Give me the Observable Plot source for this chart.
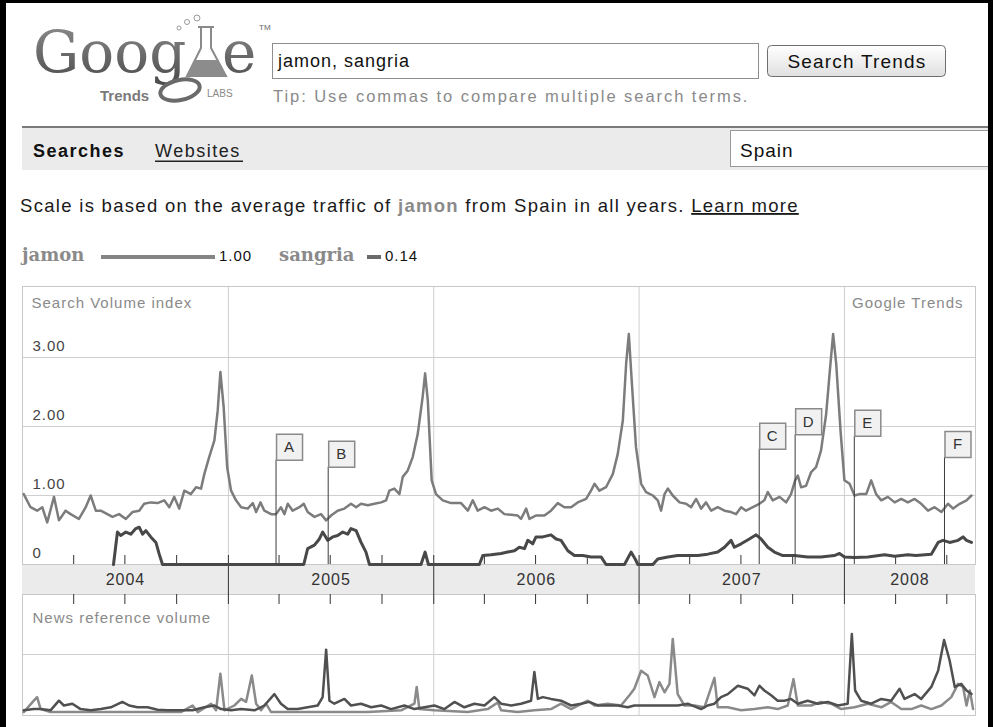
<!DOCTYPE html>
<html><head><meta charset="utf-8">
<script src="https://cdn.jsdelivr.net/npm/d3@7"></script>
<script src="https://cdn.jsdelivr.net/npm/@observablehq/plot@0.6"></script>
<style>
html,body{margin:0;padding:0;background:#fff;}
#page{position:relative;width:993px;height:727px;overflow:hidden;font-family:"Liberation Sans",Arial,sans-serif;}
#border{position:absolute;left:0;top:0;width:993px;height:760px;box-sizing:border-box;border-left:6px solid #000;border-top:3px solid #000;border-right:5px solid #000;pointer-events:none;z-index:5}
#head{position:absolute;left:0;top:0}
#search{position:absolute;left:21px;top:285px}
#news{position:absolute;left:21px;top:593px}
</style></head><body>
<div id="page">
<svg id="head" width="993" height="285" font-family="Liberation Sans, Arial, sans-serif">
  <defs>
    <linearGradient id="btn" x1="0" y1="0" x2="0" y2="1"><stop offset="0" stop-color="#ffffff"/><stop offset="1" stop-color="#e0e0e0"/></linearGradient>
    <linearGradient id="logo" x1="0" y1="0" x2="0" y2="1"><stop offset="0" stop-color="#909090"/><stop offset="1" stop-color="#4a4a4a"/></linearGradient>
  </defs>
  <g font-family="DejaVu Serif" font-size="58" fill="url(#logo)">
    <text x="33" y="72">Goog</text><text x="222" y="72">e</text>
  </g>
  <circle cx="179" cy="28" r="2" fill="none" stroke="#9a9a9a"/>
  <circle cx="187" cy="22" r="2.5" fill="none" stroke="#9a9a9a"/>
  <circle cx="197" cy="18" r="3" fill="none" stroke="#9a9a9a"/>
  <path d="M198,27 L214,27 M201,27 L201,48 L187,76 L226,76 L211,48 L211,27" fill="none" stroke="#8a8a8a" stroke-width="2"/>
  <path d="M195,60 L218,60 L226,76 L187,76 Z" fill="#8c8c8c"/>
  <ellipse cx="180" cy="90" rx="20" ry="10" fill="none" stroke="#6a6a6a" stroke-width="4" transform="rotate(-12 180 90)"/>
  <text x="259" y="30" font-size="8" fill="#666">TM</text>
  <text x="100" y="101" font-weight="bold" font-size="15" fill="#7a7a7a">Trends</text>
  <text x="207" y="97" font-size="10" fill="#8a8a8a">LABS</text>
  <rect x="272.5" y="43.5" width="486" height="35" fill="#fff" stroke="#8e8e8e"/>
  <text x="278" y="67" font-size="18" letter-spacing="1" fill="#111">jamon, sangria</text>
  <rect x="767.5" y="45.5" width="178" height="31" rx="4" fill="url(#btn)" stroke="#6e6e6e"/>
  <text x="857" y="68" text-anchor="middle" font-size="19" letter-spacing="1.2" fill="#111">Search Trends</text>
  <text x="273" y="102" font-size="16.5" letter-spacing="1.95" fill="#8a8a8a">Tip: Use commas to compare multiple search terms.</text>
  <rect x="22" y="126" width="971" height="2" fill="#7a7a7a"/>
  <rect x="22" y="128" width="971" height="42" fill="#ebebeb"/>
  <text x="33" y="157" font-size="18" font-weight="bold" letter-spacing="1.5" fill="#111">Searches</text>
  <text x="155" y="157" font-size="18" letter-spacing="1.5" fill="#222">Websites</text>
  <rect x="155" y="160.5" width="88" height="1.5" fill="#222"/>
  <rect x="730.5" y="130.5" width="300" height="36" fill="#fff" stroke="#999"/>
  <text x="740" y="157" font-size="19" letter-spacing="1" fill="#111">Spain</text>
  <text x="20" y="212" font-size="18.5" letter-spacing="1.3" fill="#1a1a1a">Scale is based on the average traffic of <tspan font-weight="bold" fill="#8a8a8a">jamon</tspan> from Spain in all years. <tspan text-decoration="underline">Learn more</tspan></text>
  <g id="legend"></g>
</svg>
<div id="search"></div>
<div id="news"></div>
<div id="border"></div>
</div>
<script>
// ---- data (decimal year, value) ----
const seriesNames = ["jamon", "sangria"];
const seriesScale = ["1.00", "0.14"];

const jamonSearch = [[2004.006,1.02],[2004.039,0.83],[2004.071,0.78],[2004.096,0.83],[2004.120,0.61],[2004.153,0.98],[2004.177,0.64],[2004.209,0.78],[2004.234,0.73],[2004.274,0.66],[2004.307,0.83],[2004.331,1.00],[2004.356,0.78],[2004.380,0.78],[2004.412,0.73],[2004.437,0.69],[2004.469,0.73],[2004.502,0.66],[2004.534,0.76],[2004.567,0.78],[2004.591,0.88],[2004.623,0.90],[2004.656,0.89],[2004.688,0.93],[2004.713,0.83],[2004.737,0.98],[2004.761,0.81],[2004.786,1.07],[2004.818,1.02],[2004.843,1.12],[2004.867,1.10],[2004.883,1.31],[2004.907,1.56],[2004.932,1.80],[2004.948,2.23],[2004.961,2.79],[2004.977,2.28],[2004.994,1.41],[2005.013,1.07],[2005.037,0.93],[2005.062,0.83],[2005.094,0.81],[2005.119,0.89],[2005.135,0.76],[2005.156,0.90],[2005.175,0.78],[2005.208,0.73],[2005.232,0.73],[2005.256,0.83],[2005.273,0.73],[2005.289,0.88],[2005.313,0.78],[2005.346,0.83],[2005.367,0.88],[2005.386,0.76],[2005.419,0.69],[2005.451,0.73],[2005.476,0.64],[2005.500,0.71],[2005.532,0.78],[2005.565,0.81],[2005.597,0.88],[2005.622,0.83],[2005.646,0.88],[2005.679,0.86],[2005.711,0.88],[2005.744,0.90],[2005.768,0.93],[2005.784,1.07],[2005.808,1.10],[2005.833,1.02],[2005.849,1.27],[2005.873,1.36],[2005.898,1.56],[2005.922,1.89],[2005.946,2.43],[2005.958,2.77],[2005.971,2.38],[2005.990,1.22],[2006.011,1.02],[2006.044,0.93],[2006.084,0.89],[2006.133,0.89],[2006.166,0.78],[2006.190,0.93],[2006.214,0.78],[2006.247,0.83],[2006.279,0.78],[2006.312,0.81],[2006.344,0.73],[2006.377,0.72],[2006.409,0.71],[2006.425,0.66],[2006.450,0.81],[2006.466,0.66],[2006.498,0.71],[2006.539,0.71],[2006.571,0.78],[2006.604,0.89],[2006.636,0.83],[2006.669,0.83],[2006.701,0.90],[2006.742,0.95],[2006.766,1.07],[2006.783,1.17],[2006.807,1.07],[2006.839,1.12],[2006.872,1.31],[2006.896,1.60],[2006.921,2.09],[2006.937,2.91],[2006.950,3.34],[2006.964,2.67],[2006.985,1.70],[2007.010,1.17],[2007.034,1.05],[2007.067,1.00],[2007.091,0.93],[2007.107,0.78],[2007.124,1.02],[2007.140,1.10],[2007.164,1.00],[2007.197,0.90],[2007.229,0.88],[2007.253,0.83],[2007.278,0.95],[2007.302,0.81],[2007.326,0.90],[2007.351,0.78],[2007.383,0.83],[2007.416,0.78],[2007.448,0.76],[2007.472,0.73],[2007.497,0.83],[2007.521,0.78],[2007.554,0.83],[2007.586,0.88],[2007.610,0.93],[2007.627,1.05],[2007.651,0.93],[2007.684,0.98],[2007.716,0.90],[2007.740,1.02],[2007.760,1.22],[2007.773,1.29],[2007.789,1.12],[2007.813,1.14],[2007.838,1.34],[2007.862,1.41],[2007.886,1.65],[2007.911,2.18],[2007.932,2.91],[2007.945,3.34],[2007.960,2.91],[2007.981,1.94],[2008.000,1.22],[2008.025,1.17],[2008.049,1.00],[2008.073,1.02],[2008.106,1.02],[2008.130,1.22],[2008.154,1.02],[2008.179,0.93],[2008.211,0.98],[2008.244,0.90],[2008.276,0.95],[2008.308,0.90],[2008.341,0.95],[2008.373,0.88],[2008.406,0.78],[2008.438,0.83],[2008.471,0.76],[2008.503,0.88],[2008.528,0.81],[2008.560,0.88],[2008.593,0.93],[2008.617,1.00]];

const sangriaSearch = [[2004.442,0],[2004.461,0.47],[2004.477,0.42],[2004.502,0.47],[2004.526,0.44],[2004.550,0.52],[2004.567,0.54],[2004.583,0.44],[2004.599,0.49],[2004.623,0.40],[2004.648,0.32],[2004.664,0.15],[2004.680,0],[2005.367,0],[2005.386,0.23],[2005.419,0.28],[2005.443,0.37],[2005.459,0.47],[2005.484,0.35],[2005.508,0.40],[2005.532,0.42],[2005.557,0.47],[2005.581,0.44],[2005.597,0.52],[2005.622,0.49],[2005.646,0.32],[2005.670,0.18],[2005.687,0],[2005.938,0],[2005.958,0.18],[2005.974,0],[2006.222,0],[2006.239,0.13],[2006.279,0.14],[2006.328,0.16],[2006.360,0.18],[2006.393,0.20],[2006.417,0.25],[2006.442,0.23],[2006.458,0.35],[2006.482,0.30],[2006.498,0.40],[2006.531,0.40],[2006.571,0.43],[2006.596,0.37],[2006.620,0.35],[2006.653,0.20],[2006.685,0.13],[2006.726,0.13],[2006.766,0.11],[2006.815,0.11],[2006.839,0],[2006.929,0],[2006.961,0.18],[2006.981,0.08],[2006.994,0],[2007.067,0],[2007.091,0.08],[2007.140,0.11],[2007.188,0.13],[2007.237,0.13],[2007.286,0.13],[2007.334,0.15],[2007.383,0.18],[2007.416,0.25],[2007.448,0.35],[2007.464,0.25],[2007.497,0.30],[2007.537,0.37],[2007.570,0.43],[2007.594,0.37],[2007.627,0.25],[2007.659,0.18],[2007.700,0.13],[2007.756,0.13],[2007.821,0.11],[2007.886,0.11],[2007.951,0.13],[2007.976,0.16],[2008.000,0.11],[2008.049,0.10],[2008.114,0.11],[2008.195,0.14],[2008.244,0.12],[2008.308,0.14],[2008.347,0.13],[2008.422,0.15],[2008.455,0.32],[2008.479,0.35],[2008.511,0.32],[2008.552,0.35],[2008.576,0.40],[2008.593,0.35],[2008.617,0.32]];

const jamonNews = [[2004.006,0.04],[2004.055,0.23],[2004.071,0.29],[2004.088,0.09],[2004.136,0.04],[2004.299,0.04],[2004.542,0.04],[2004.769,0.04],[2004.826,0.15],[2004.851,0.04],[2004.916,0.18],[2004.940,0.07],[2004.961,0.68],[2004.981,0.07],[2005.029,0.15],[2005.062,0.26],[2005.086,0.21],[2005.114,0.65],[2005.135,0.18],[2005.159,0.07],[2005.183,0.18],[2005.208,0.04],[2005.354,0.04],[2005.516,0.04],[2005.679,0.04],[2005.841,0.07],[2005.906,0.18],[2005.917,0.46],[2005.930,0.09],[2006.003,0.07],[2006.166,0.04],[2006.263,0.09],[2006.312,0.20],[2006.328,0.07],[2006.409,0.04],[2006.490,0.07],[2006.571,0.09],[2006.620,0.18],[2006.669,0.09],[2006.750,0.23],[2006.783,0.15],[2006.847,0.18],[2006.912,0.15],[2006.953,0.32],[2006.977,0.43],[2007.010,0.73],[2007.042,0.65],[2007.075,0.29],[2007.099,0.54],[2007.124,0.37],[2007.148,0.51],[2007.164,1.26],[2007.188,0.34],[2007.221,0.15],[2007.270,0.15],[2007.318,0.12],[2007.367,0.61],[2007.383,0.12],[2007.432,0.12],[2007.497,0.07],[2007.562,0.09],[2007.627,0.12],[2007.675,0.09],[2007.724,0.15],[2007.752,0.59],[2007.773,0.15],[2007.838,0.15],[2007.886,0.21],[2007.935,0.18],[2007.984,0.09],[2008.049,0.12],[2008.114,0.18],[2008.179,0.12],[2008.227,0.21],[2008.276,0.09],[2008.325,0.09],[2008.373,0.15],[2008.422,0.09],[2008.471,0.15],[2008.519,0.29],[2008.552,0.51],[2008.576,0.46],[2008.593,0.15],[2008.609,0.40],[2008.625,0.09]];

const sangriaNews = [[2004.006,0.07],[2004.055,0.09],[2004.088,0.09],[2004.136,0.07],[2004.177,0.23],[2004.201,0.15],[2004.242,0.18],[2004.282,0.09],[2004.331,0.07],[2004.380,0.09],[2004.429,0.12],[2004.485,0.21],[2004.518,0.15],[2004.558,0.12],[2004.607,0.12],[2004.656,0.08],[2004.705,0.07],[2004.769,0.07],[2004.826,0.07],[2004.883,0.12],[2004.932,0.15],[2004.964,0.09],[2005.013,0.07],[2005.062,0.09],[2005.127,0.07],[2005.175,0.15],[2005.224,0.34],[2005.256,0.18],[2005.289,0.09],[2005.338,0.09],[2005.386,0.12],[2005.435,0.15],[2005.459,0.29],[2005.476,1.08],[2005.492,0.23],[2005.516,0.18],[2005.565,0.26],[2005.597,0.15],[2005.646,0.18],[2005.695,0.12],[2005.744,0.15],[2005.792,0.09],[2005.857,0.15],[2005.906,0.09],[2005.955,0.12],[2006.003,0.15],[2006.052,0.09],[2006.101,0.21],[2006.149,0.12],[2006.198,0.18],[2006.247,0.15],[2006.295,0.29],[2006.328,0.18],[2006.377,0.15],[2006.425,0.18],[2006.474,0.23],[2006.490,0.71],[2006.507,0.26],[2006.531,0.29],[2006.571,0.26],[2006.620,0.23],[2006.669,0.15],[2006.718,0.18],[2006.758,0.21],[2006.799,0.15],[2006.847,0.15],[2006.896,0.15],[2006.945,0.12],[2006.977,0.15],[2007.026,0.15],[2007.091,0.15],[2007.140,0.15],[2007.188,0.15],[2007.237,0.18],[2007.302,0.09],[2007.334,0.15],[2007.367,0.18],[2007.399,0.29],[2007.432,0.34],[2007.481,0.48],[2007.529,0.43],[2007.562,0.32],[2007.586,0.48],[2007.610,0.40],[2007.643,0.32],[2007.675,0.23],[2007.708,0.23],[2007.740,0.26],[2007.773,0.18],[2007.821,0.23],[2007.870,0.18],[2007.919,0.21],[2007.968,0.15],[2008.016,0.18],[2008.036,1.34],[2008.052,0.40],[2008.081,0.23],[2008.130,0.18],[2008.179,0.26],[2008.227,0.23],[2008.268,0.43],[2008.292,0.26],[2008.341,0.34],[2008.373,0.26],[2008.422,0.46],[2008.455,0.73],[2008.484,1.24],[2008.511,0.90],[2008.536,0.46],[2008.568,0.51],[2008.593,0.40],[2008.617,0.34]];

const flagLabels = ["A", "B", "C", "D", "E", "F"];
const flagDates = [2005.232, 2005.486, 2007.585, 2007.760, 2008.048, 2008.486];
const flagLevels = [1.51, 1.41, 1.67, 1.88, 1.86, 1.55];

const yTicks = [0, 1, 2, 3];
const years = [2004, 2005, 2006, 2007, 2008];

// ---- helpers ----
const toDate = t => { const y = Math.floor(t); const a = Date.UTC(y, 0, 1), b = Date.UTC(y + 1, 0, 1); return new Date(a + (t - y) * (b - a)); };
const rows = arr => arr.map(([t, v]) => ({date: toDate(t), value: v}));
const xStart = new Date(Date.UTC(2004, 0, 1)), xEnd = new Date(Date.UTC(2008, 7, 21));
const yearStarts = years.slice(1).map(y => new Date(Date.UTC(y, 0, 1)));
const quarters = years.flatMap(y => [3, 6, 9].map(m => new Date(Date.UTC(y, m, 1)))).filter(d => d < xEnd);
const tickDates = quarters.concat(yearStarts);
const yearMids = years.map(y => { const a = Date.UTC(y, 0, 1), b = Math.min(Date.UTC(y + 1, 0, 1), +xEnd); return new Date((a + b) / 2); });
const flags = flagLabels.map((label, i) => ({label, date: toDate(flagDates[i]), level: flagLevels[i]}));

const baseStyle = {background: "transparent", fontFamily: "Liberation Sans, Arial, sans-serif", fontSize: "15px", letterSpacing: "1px", overflow: "visible"};
const jamonColor = "#7c7c7c", sangriaColor = "#484848";

// legend
const ns = "http://www.w3.org/2000/svg";
const leg = document.getElementById("legend");
const legendSpec = [
  {x: 22, bx: 101, bw: 114, vx: 219, color: "#858585"},
  {x: 279, bx: 367, bw: 14, vx: 385, color: "#6a6a6a"}
];
legendSpec.forEach((s, i) => {
  const t = document.createElementNS(ns, "text");
  t.setAttribute("x", s.x); t.setAttribute("y", 261);
  t.setAttribute("font-family", "DejaVu Serif"); t.setAttribute("font-weight", "bold");
  t.setAttribute("font-size", 18); t.setAttribute("fill", "#8a8a8a");
  t.textContent = seriesNames[i]; leg.appendChild(t);
  const r = document.createElementNS(ns, "rect");
  r.setAttribute("x", s.bx); r.setAttribute("y", 255); r.setAttribute("width", s.bw); r.setAttribute("height", 4);
  r.setAttribute("fill", s.color); leg.appendChild(r);
  const v = document.createElementNS(ns, "text");
  v.setAttribute("x", s.vx); v.setAttribute("y", 261); v.setAttribute("font-size", 15);
  v.setAttribute("letter-spacing", 1); v.setAttribute("fill", "#111");
  v.textContent = seriesScale[i]; leg.appendChild(v);
});

// ---- search volume chart ----
const search = Plot.plot({
  width: 955, height: 310,
  marginTop: 1, marginLeft: 1, marginRight: 1, marginBottom: 31,
  style: baseStyle,
  x: {type: "utc", domain: [xStart, xEnd], axis: null},
  y: {domain: [0, 3], range: [279, 72], axis: null},
  marks: [
    Plot.rect([0], {x1: () => xStart, x2: () => xEnd, insetTop: 278, insetBottom: -30, fill: "#ebebeb"}),
    Plot.ruleY(yTicks.filter(d => d > 0), {stroke: "#cfcfcf"}),
    Plot.ruleX(yearStarts, {stroke: "#cfcfcf"}),
    Plot.frame({stroke: "#c8c8c8"}),
    Plot.ruleX(tickDates, {insetTop: 269, stroke: "#333"}),
    Plot.ruleX(yearStarts, {insetTop: 278, insetBottom: -30, stroke: "#333"}),
    Plot.axisX(yearMids, {anchor: "bottom", tickSize: 0, tickPadding: 9, tickFormat: d => String(d.getUTCFullYear()), fill: "#333", fontSize: 16, label: null}),
    Plot.text(yTicks, {y: d => d, text: d => d === 0 ? "0" : d.toFixed(2), frameAnchor: "left", textAnchor: "start", dx: 10, dy: -11, fill: "#444", fontSize: 15}),
    Plot.text(["Search Volume index"], {frameAnchor: "top-left", textAnchor: "start", lineAnchor: "middle", dx: 9, dy: 17, fill: "#8a8a8a", fontSize: 15}),
    Plot.text(["Google Trends"], {frameAnchor: "top-right", textAnchor: "end", lineAnchor: "middle", dx: -12, dy: 17, fill: "#8a8a8a", fontSize: 15}),
    Plot.line(rows(jamonSearch), {x: "date", y: "value", stroke: jamonColor, strokeWidth: 2.5}),
    Plot.line(rows(sangriaSearch), {x: "date", y: "value", stroke: sangriaColor, strokeWidth: 3}),
    Plot.ruleX(flags, {x: "date", y1: 0, y2: "level", stroke: "#3c3c3c"}),
    Plot.dot(flags, {x: "date", y: "level", symbol: "square", r: 14.67, dx: 13.5, dy: -13, fill: "#f1f1f1", stroke: "#8a8a8a"}),
    Plot.text(flags, {x: "date", y: "level", text: "label", dx: 13.5, dy: -13, fill: "#333", fontSize: 15})
  ]
});
document.getElementById("search").appendChild(search);

// ---- news reference volume chart ----
const news = Plot.plot({
  width: 955, height: 123,
  marginTop: 1, marginLeft: 1, marginRight: 1, marginBottom: 1,
  style: baseStyle,
  x: {type: "utc", domain: [xStart, xEnd], axis: null},
  y: {domain: [0, 2], range: [121, 1], axis: null},
  marks: [
    Plot.ruleY([1], {stroke: "#cfcfcf"}),
    Plot.ruleX(yearStarts, {stroke: "#cfcfcf"}),
    Plot.frame({stroke: "#c8c8c8"}),
    Plot.ruleX(tickDates, {insetBottom: 111, stroke: "#333"}),
    Plot.text(["News reference volume"], {frameAnchor: "top-left", textAnchor: "start", lineAnchor: "middle", dx: 10, dy: 24, fill: "#8a8a8a", fontSize: 15}),
    Plot.line(rows(jamonNews), {x: "date", y: "value", stroke: "#8a8a8a", strokeWidth: 2.5}),
    Plot.line(rows(sangriaNews), {x: "date", y: "value", stroke: "#505050", strokeWidth: 2.5})
  ]
});
document.getElementById("news").appendChild(news);
</script>
</body></html>
